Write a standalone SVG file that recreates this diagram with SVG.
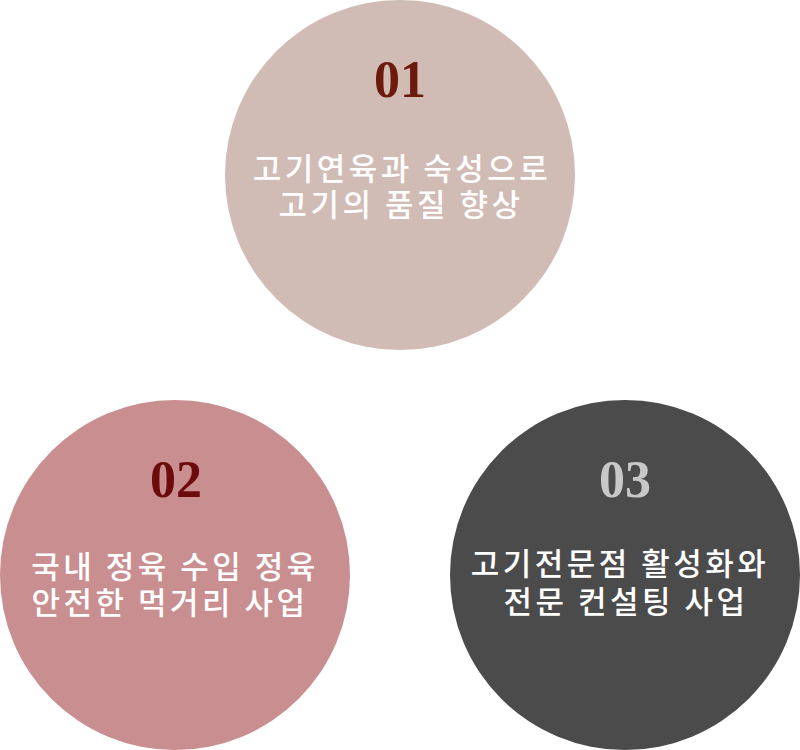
<svg xmlns="http://www.w3.org/2000/svg" width="800" height="750" viewBox="0 0 800 750">
<style>
.num{font-family:"Liberation Serif","DejaVu Serif",serif;font-weight:bold;font-size:52px;text-anchor:middle}
.lbl{font-family:"Noto Sans CJK KR","Noto Sans",sans-serif;font-size:31px;font-weight:500;fill:#ffffff;text-anchor:middle;letter-spacing:3.5px}
</style>
<rect width="800" height="750" fill="#ffffff"/>
<g id="node1">
<circle cx="400" cy="175" r="175" fill="#d1bbb5"/>
<text class="num" x="400" y="97" fill="#6c1a0d">01</text>
<text class="lbl" x="402" y="180">고기연육과 숙성으로</text>
<text class="lbl" x="401" y="216">고기의 품질 향상</text>
</g>
<g id="node2">
<circle cx="175" cy="575" r="175" fill="#c98f90"/>
<text class="num" x="176" y="497" fill="#6c0b0b">02</text>
<text class="lbl" x="175" y="578">국내 정육 수입 정육</text>
<text class="lbl" x="170" y="614">안전한 먹거리 사업</text>
</g>
<g id="node3">
<circle cx="625" cy="575" r="175" fill="#4b4b4b"/>
<text class="num" x="625" y="497" fill="#c8c8c8">03</text>
<text class="lbl" x="620" y="575">고기전문점 활성화와</text>
<text class="lbl" x="626" y="613">전문 컨설팅 사업</text>
</g>
<g id="connectors"></g>
</svg>
